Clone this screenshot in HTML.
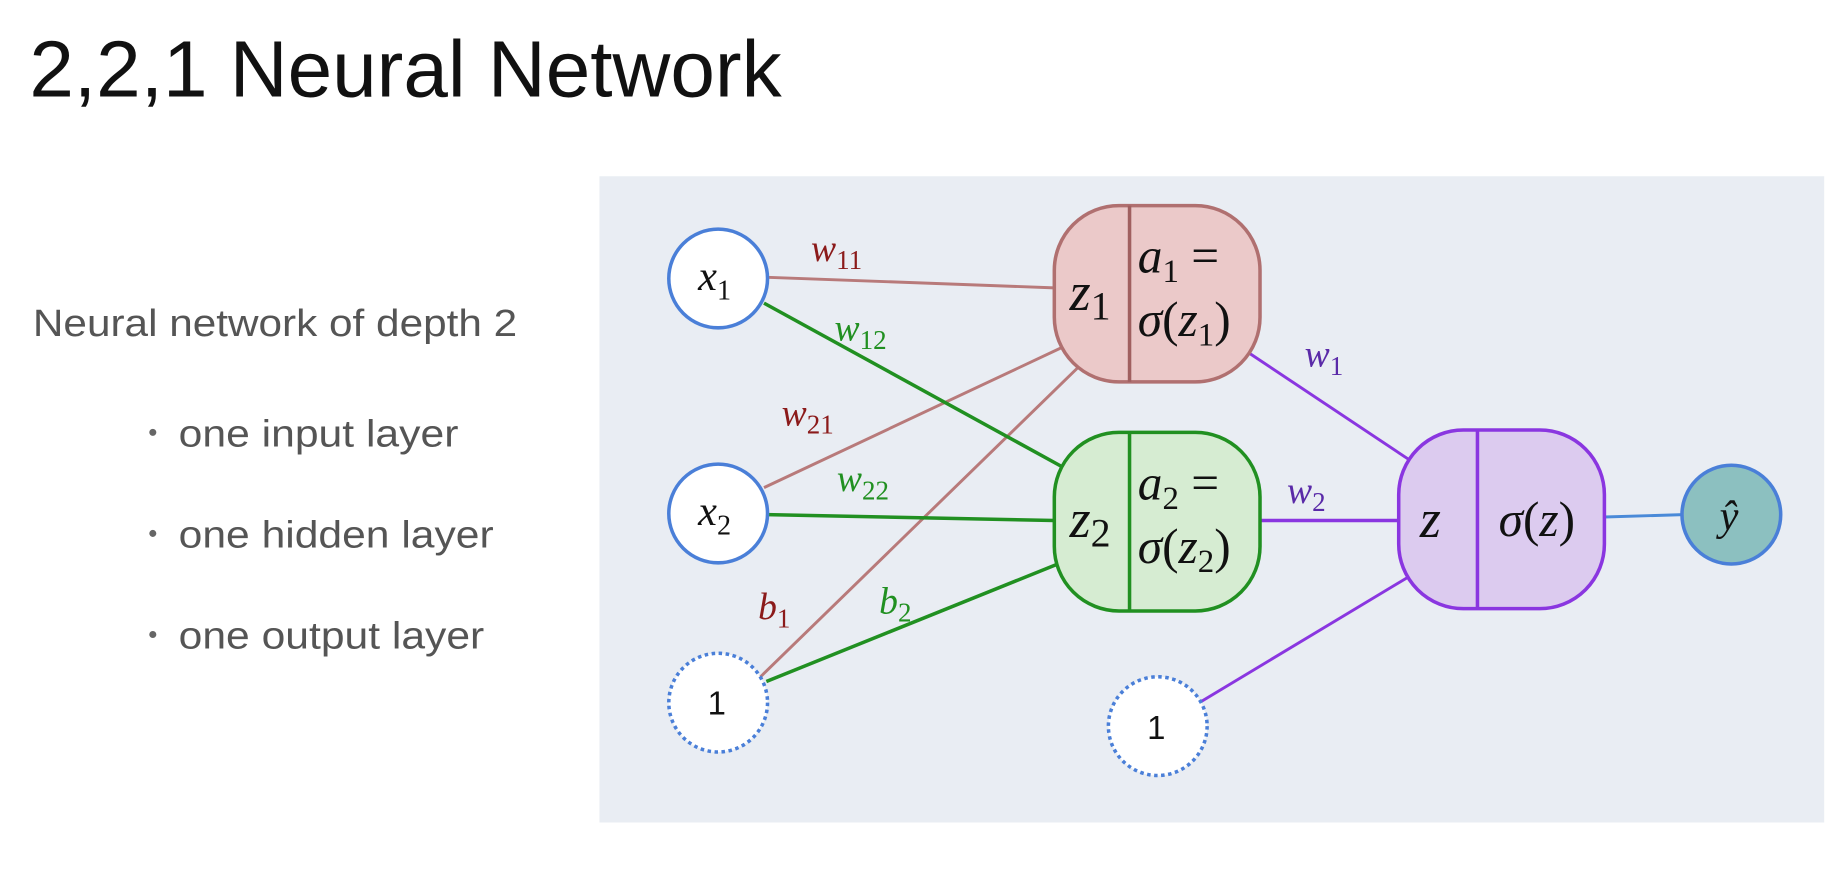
<!DOCTYPE html>
<html><head><meta charset="utf-8"><style>
html,body{margin:0;padding:0;background:#fff;width:1843px;height:873px;overflow:hidden}
svg{display:block}
.s{font-family:"Liberation Serif",serif;font-style:italic}
.t{font-family:"Liberation Sans",sans-serif}
</style></head><body>
<svg width="1843" height="873" viewBox="0 0 1568 743" preserveAspectRatio="none" xmlns="http://www.w3.org/2000/svg">
<rect width="1568" height="743" fill="#fff"/>
<text class="t" x="25" y="82" font-size="68" fill="#111" textLength="640" lengthAdjust="spacingAndGlyphs">2,2,1 Neural Network</text>
<text class="t" x="28" y="286" font-size="32" fill="#555" textLength="412" lengthAdjust="spacingAndGlyphs">Neural network of depth 2</text>
<g class="t" font-size="32" fill="#555">
<circle cx="130" cy="368" r="3" fill="#666"/><text x="152" y="380" textLength="238" lengthAdjust="spacingAndGlyphs">one input layer</text>
<circle cx="130" cy="454" r="3" fill="#666"/><text x="152" y="466" textLength="268" lengthAdjust="spacingAndGlyphs">one hidden layer</text>
<circle cx="130" cy="540" r="3" fill="#666"/><text x="152" y="552" textLength="260" lengthAdjust="spacingAndGlyphs">one output layer</text>
</g>
<rect x="510" y="150" width="1042" height="550" fill="#e9edf3"/>
<g stroke-width="2.5" fill="none">
<line x1="653" y1="236" x2="897" y2="245" stroke="#b87a7a"/>
<line x1="650" y1="415" x2="905" y2="295" stroke="#b87a7a"/>
<line x1="645" y1="578" x2="920" y2="310" stroke="#b87a7a"/>
<line x1="650" y1="258" x2="905" y2="398" stroke="#219021" stroke-width="3"/>
<line x1="653" y1="438" x2="897" y2="443" stroke="#219021" stroke-width="3"/>
<line x1="652" y1="580" x2="900" y2="480" stroke="#219021" stroke-width="3"/>
<line x1="1062" y1="300" x2="1200" y2="392" stroke="#8a36e0"/>
<line x1="1072" y1="443" x2="1190" y2="443" stroke="#8a36e0" stroke-width="3"/>
<line x1="1022" y1="597" x2="1200" y2="490" stroke="#8a36e0"/>
<line x1="1365" y1="440" x2="1432" y2="438" stroke="#4a8ad8"/>
</g>
<g fill="#fff" stroke="#4a7fd8" stroke-width="3">
<circle cx="611" cy="237" r="42"/>
<circle cx="611" cy="437" r="42"/>
<circle cx="611" cy="598" r="42" stroke-dasharray="3 3"/>
<circle cx="985" cy="618" r="42" stroke-dasharray="3 3"/>
<circle cx="1473" cy="438" r="42" fill="#8cc0c0"/>
</g>
<rect x="897" y="175" width="175" height="150" rx="55" fill="#ebc9c9" stroke="#b07070" stroke-width="3"/>
<line x1="961" y1="175" x2="961" y2="325" stroke="#a06060" stroke-width="3"/>
<rect x="897" y="368" width="175" height="152" rx="55" fill="#d6ecd2" stroke="#219021" stroke-width="3"/>
<line x1="961" y1="368" x2="961" y2="520" stroke="#219021" stroke-width="3"/>
<rect x="1190" y="366" width="175" height="152" rx="55" fill="#dccbef" stroke="#8a36e0" stroke-width="3"/>
<line x1="1257" y1="366" x2="1257" y2="518" stroke="#8a36e0" stroke-width="3"/>
<g class="s" fill="#111">
<text x="594" y="247" font-size="36">x<tspan font-size="24" dy="8" font-style="normal">1</tspan></text>
<text x="594" y="447" font-size="36">x<tspan font-size="24" dy="8" font-style="normal">2</tspan></text>
<text x="910" y="264" font-size="46">z<tspan font-size="34" dy="8" font-style="normal">1</tspan></text>
<text x="968" y="232" font-size="42">a<tspan font-size="28" dy="8" font-style="normal">1</tspan><tspan dy="-8" font-style="normal"> =</tspan></text>
<text x="968" y="286" font-size="42">σ<tspan font-style="normal">(</tspan>z<tspan font-size="28" dy="8" font-style="normal">1</tspan><tspan dy="-8" font-style="normal">)</tspan></text>
<text x="910" y="457" font-size="46">z<tspan font-size="34" dy="8" font-style="normal">2</tspan></text>
<text x="968" y="425" font-size="42">a<tspan font-size="28" dy="8" font-style="normal">2</tspan><tspan dy="-8" font-style="normal"> =</tspan></text>
<text x="968" y="479" font-size="42">σ<tspan font-style="normal">(</tspan>z<tspan font-size="28" dy="8" font-style="normal">2</tspan><tspan dy="-8" font-style="normal">)</tspan></text>
<text x="1208" y="457" font-size="46">z</text>
<text x="1275" y="456" font-size="42">σ<tspan font-style="normal">(</tspan>z<tspan font-style="normal">)</tspan></text>
<text x="1463" y="451" font-size="36">ŷ</text>
</g>
<g class="t" font-size="28" fill="#111">
<text x="602" y="608">1</text><text x="976" y="629">1</text>
</g>
<g class="s" font-size="32">
<text x="690" y="222" fill="#8b1a1a">w<tspan font-size="23" dy="7" font-style="normal">11</tspan></text>
<text x="710" y="290" fill="#219021">w<tspan font-size="23" dy="7" font-style="normal">12</tspan></text>
<text x="665" y="362" fill="#8b1a1a">w<tspan font-size="23" dy="7" font-style="normal">21</tspan></text>
<text x="712" y="418" fill="#219021">w<tspan font-size="23" dy="7" font-style="normal">22</tspan></text>
<text x="645" y="527" fill="#8b1a1a">b<tspan font-size="23" dy="7" font-style="normal">1</tspan></text>
<text x="748" y="522" fill="#219021">b<tspan font-size="23" dy="7" font-style="normal">2</tspan></text>
<text x="1110" y="312" fill="#5a2aa8">w<tspan font-size="23" dy="7" font-style="normal">1</tspan></text>
<text x="1095" y="428" fill="#5a2aa8">w<tspan font-size="23" dy="7" font-style="normal">2</tspan></text>
</g>
</svg>
</body></html>
